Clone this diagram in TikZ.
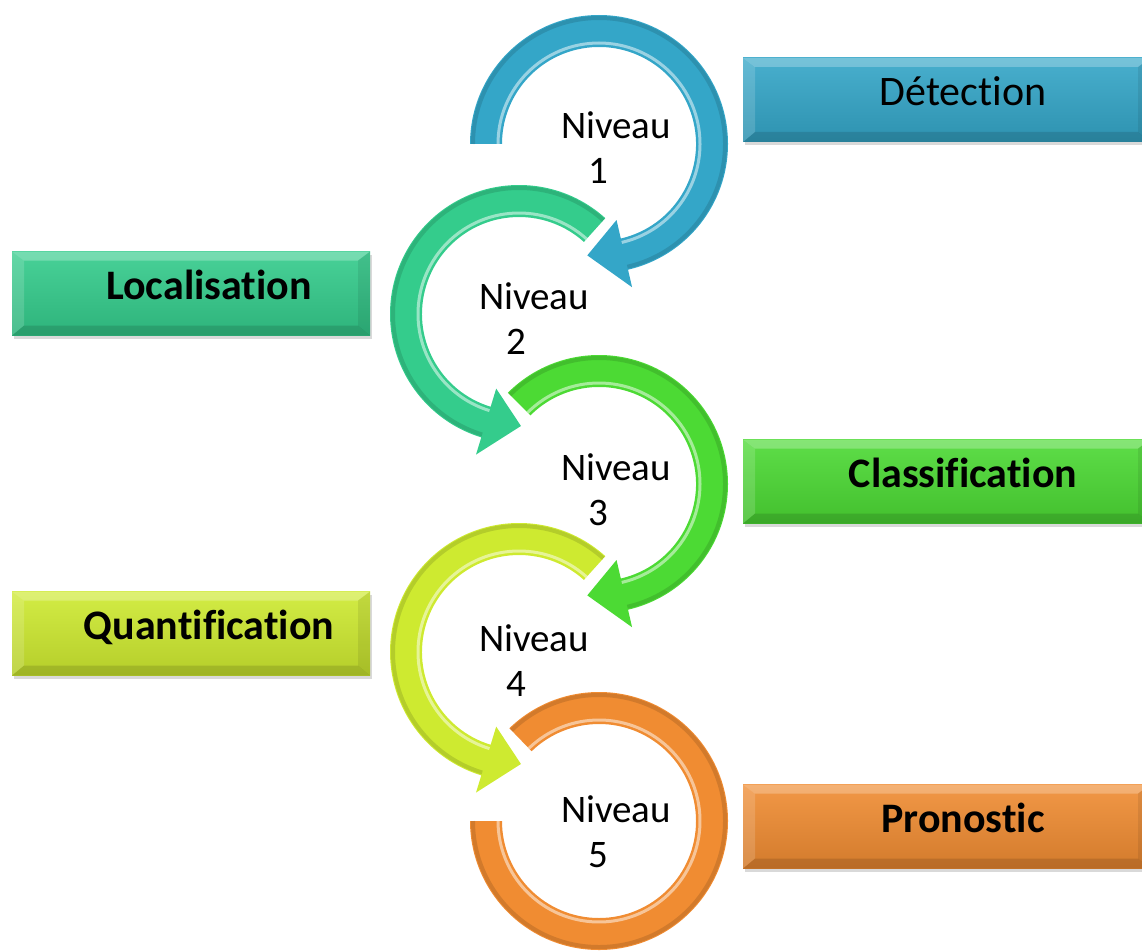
\documentclass[tikz,border=0pt]{standalone}
\usepackage{fontspec}
\setmainfont{Carlito}[Ligatures=NoCommon]
\usepackage{tikz}
\usetikzlibrary{calc,shadows}
\definecolor{lvlblue}{RGB}{52,166,200}
\definecolor{lvlteal}{RGB}{52,204,140}
\definecolor{lvlgreen}{RGB}{76,218,52}
\definecolor{lvlyellow}{RGB}{206,234,48}
\definecolor{lvlorange}{RGB}{240,140,50}
\tikzset{
  lvltext/.style={align=center, inner sep=0pt, font=\fontsize{39}{45}\selectfont},
  levelbox/.style={minimum height=84pt, inner sep=0pt,
    font=\fontsize{42}{48}\selectfont\bfseries,
    drop shadow={opacity=.3, shadow xshift=2pt, shadow yshift=-3pt},
    path picture={
      \fill[white, opacity=.25] (path picture bounding box.north west) -- (path picture bounding box.north east)
        -- ([shift={(-12pt,-9pt)}]path picture bounding box.north east) -- ([shift={(12pt,-9pt)}]path picture bounding box.north west) -- cycle;
      \fill[white, opacity=.15] (path picture bounding box.north west) -- (path picture bounding box.south west)
        -- ([shift={(12pt,10pt)}]path picture bounding box.south west) -- ([shift={(12pt,-9pt)}]path picture bounding box.north west) -- cycle;
      \fill[black, opacity=.12] (path picture bounding box.south west) -- (path picture bounding box.south east)
        -- ([shift={(-12pt,10pt)}]path picture bounding box.south east) -- ([shift={(12pt,10pt)}]path picture bounding box.south west) -- cycle;
      \fill[black, opacity=.08] (path picture bounding box.north east) -- (path picture bounding box.south east)
        -- ([shift={(-12pt,10pt)}]path picture bounding box.south east) -- ([shift={(-12pt,-9pt)}]path picture bounding box.north east) -- cycle;
    }},
  rightbox/.style={levelbox, minimum width=407pt},
  leftbox/.style={levelbox, minimum width=358pt},
}
% ring with arrow head: centre, start, end, tip, colour
\newcommand{\ringarrow}[5]{
  \fill[#5] (#1) ++(#2:129) arc[start angle=#2, end angle=#3, radius=129]
    -- ($(#1)+(#3:147)$) -- ($(#1)+(#4:112)$) -- ($(#1)+(#3:78)$)
    -- ($(#1)+(#3:97)$) arc[start angle=#3, end angle=#2, radius=97] -- cycle;
  \draw[black, opacity=.12, line width=4pt] (#1) ++(#2:126) arc[start angle=#2, end angle=#3, radius=126];
  \draw[white, opacity=.5, line width=3pt] (#1) ++(#2:101) arc[start angle=#2, end angle=#3, radius=101];
}

\begin{document}
\begin{tikzpicture}[x=1pt, y=-1pt]
  \useasboundingbox (0,0) rectangle (1142,952);
  % level centres
  \coordinate (c1) at (599,144);
  \coordinate (c2) at (519,314);
  \coordinate (c3) at (599,484);
  \coordinate (c4) at (519,652);
  \coordinate (c5) at (599,821);

  % rings, last level first
  \fill[lvlorange] (c5) ++(-134:129) arc[start angle=-134, end angle=180, radius=129]
    -- ($(c5)+(180:97)$) arc[start angle=180, end angle=-134, radius=97] -- cycle;
  \draw[black, opacity=.12, line width=4pt] (c5) ++(-134:126) arc[start angle=-134, end angle=180, radius=126];
  \draw[white, opacity=.5, line width=3pt] (c5) ++(-134:101) arc[start angle=-134, end angle=180, radius=101];
  \ringarrow{c4}{-48}{-253}{-271}{lvlyellow}
  \ringarrow{c3}{-135}{77}{96}{lvlgreen}
  \ringarrow{c2}{-48}{-253}{-271}{lvlteal}
  \ringarrow{c1}{-180}{77}{96}{lvlblue}

  % level labels
  \node[lvltext] (n1) at (616,148) {Niveau\\1\hspace*{0.9em}};
  \node[lvltext] (n2) at (534,319) {Niveau\\2\hspace*{0.9em}};
  \node[lvltext] (n3) at (616,490) {Niveau\\3\hspace*{0.9em}};
  \node[lvltext] (n4) at (534,661) {Niveau\\4\hspace*{0.9em}};
  \node[lvltext] (n5) at (616,832) {Niveau\\5\hspace*{0.9em}};

  % boxes
  \node[rightbox, top color=lvlblue!90!white, bottom color=lvlblue!88!black, font=\fontsize{42}{48}\selectfont] (detect) at (946.5,100) {\hspace*{33pt}\raisebox{18pt}{Détection}};
  \node[leftbox, top color=lvlteal!90!white, bottom color=lvlteal!88!black] (local) at (191,293.5) {\hspace*{36pt}\raisebox{18pt}{Localisation}};
  \node[rightbox, top color=lvlgreen!90!white, bottom color=lvlgreen!88!black] (classif) at (946.5,481.5) {\hspace*{33pt}\raisebox{18pt}{Classification}};
  \node[leftbox, top color=lvlyellow!90!white, bottom color=lvlyellow!88!black] (quant) at (191,633.5) {\hspace*{36pt}\raisebox{18pt}{Quantification}};
  \node[rightbox, top color=lvlorange!90!white, bottom color=lvlorange!88!black] (prono) at (946.5,826.5) {\hspace*{33pt}\raisebox{18pt}{Pronostic}};
\end{tikzpicture}
\end{document}
